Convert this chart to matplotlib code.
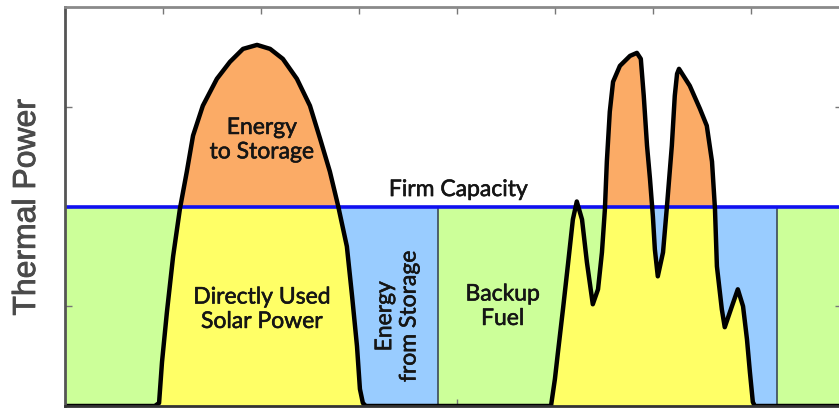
import numpy as np
import matplotlib
matplotlib.use("Agg")
import matplotlib.pyplot as plt
import matplotlib.patheffects as pe

# ---- data ----
# thermal power from the solar field (hours, arbitrary power units)
hours = [0, 2.75, 2.88, 2.97, 3.12, 3.31, 3.52, 3.73, 3.92, 4.22, 4.65, 5.05, 5.45,
         5.88, 6.28, 6.67, 7.10, 7.50, 7.81, 8.11, 8.36, 8.63, 8.79, 8.94, 9.03,
         9.12, 9.21,
         14.88, 15.00, 15.09, 15.25, 15.40, 15.55, 15.67, 15.83, 15.98, 16.16, 16.32,
         16.44, 16.53, 16.59, 16.68, 16.78, 16.99, 17.30, 17.51, 17.63, 17.72, 17.82,
         17.91, 18.00, 18.06, 18.15, 18.31, 18.43, 18.58, 18.67, 18.74, 18.80, 19.13,
         19.44, 19.65, 19.81, 19.90, 19.96, 20.11, 20.20, 20.42, 20.60, 20.76, 20.88,
         20.97, 21.06, 21.12, 23.79]
solar_power = [0, 0, 0.03, 0.44, 0.94, 1.50, 1.98, 2.35, 2.71, 3.01, 3.28, 3.45, 3.58,
               3.62, 3.58, 3.48, 3.28, 3.01, 2.68, 2.35, 2.01, 1.60, 1.10, 0.60, 0.17,
               0.03, 0,
               0, 0.27, 0.53, 0.98, 1.42, 1.87, 2.05, 1.87, 1.44, 1.02, 1.17,
               1.54, 1.97, 2.45, 2.95, 3.25, 3.41, 3.51, 3.54, 3.48, 3.11, 2.61,
               2.28, 1.90, 1.57, 1.30, 1.54, 2.00, 2.61, 3.11, 3.33, 3.38, 3.21,
               2.98, 2.81, 2.45, 1.98, 1.40, 0.97, 0.79, 1.00, 1.17, 1.00, 0.67,
               0.34, 0.04, 0, 0]
firm_capacity = 2.0
# storage discharge windows (start, end) in hours
discharge_start = [8.36, 17.90]
discharge_end = [11.42, 21.80]

labels = {
    "to_storage": "Energy\nto Storage",
    "direct": "Directly Used\nSolar Power",
    "firm": "Firm Capacity",
    "from_storage": "Energy\nfrom Storage",
    "backup": "Backup\nFuel",
}
ylabel = "Thermal Power"

# ---- colours ----
c_green = "#CCFF99"
c_yellow = "#FFFF66"
c_orange = "#FBAB66"
c_blue = "#99CCFF"

x = np.array(hours)
p = np.array(solar_power)
xmax = hours[-1]

fig = plt.figure(figsize=(8.39, 4.10), dpi=100)
ax = fig.add_axes([65 / 839, 3 / 410, 777 / 839, 399 / 410])

# backup fuel everywhere below firm capacity
ax.fill_between([0, xmax], 0, firm_capacity, color=c_green, lw=0, zorder=1)
# energy from storage
for s, e in zip(discharge_start, discharge_end):
    ax.fill_between([s, e], 0, firm_capacity, color=c_blue, lw=0, zorder=2)
    ax.plot([e, e], [0, firm_capacity], color="#3C4A58", lw=1.2, zorder=3)
# directly used solar
ax.fill_between(x, 0, p, color=c_yellow, lw=0, zorder=4)
# energy to storage
ax.fill_between(x, firm_capacity, p, where=p > firm_capacity, interpolate=True,
                color=c_orange, lw=0, zorder=5)
# firm capacity line
ax.axhline(firm_capacity, color="#1010F0", lw=2.6, zorder=6)
# solar curve
ax.plot(x, p, color="black", lw=3.2, zorder=7, solid_joinstyle="round")

ax.set_xlim(0, xmax)
ax.set_ylim(0, 4)
ax.set_xticks(np.arange(0, 22, 3))
ax.set_yticks([1, 2, 3])
ax.set_xticklabels([])
ax.set_yticklabels([])
ax.tick_params(direction="in", length=5, width=1, color="#777777",
               top=True, bottom=True, left=True, right=True)
for side, sp in ax.spines.items():
    sp.set_linewidth(2)
    sp.set_zorder(8)
ax.spines["top"].set_color("#8A8A8A")
ax.spines["left"].set_color("#555555")
ax.spines["bottom"].set_color("#333333")
ax.spines["right"].set_color("#555555")

fig.text(27 / 839, 1 - 208 / 410, ylabel, rotation=90, ha="center", va="center",
         fontsize=23, color="#4A4A4A", family=["Liberation Sans", "DejaVu Sans"],
         path_effects=[pe.withStroke(linewidth=0.6, foreground="#4A4A4A")])

stroke = [pe.withStroke(linewidth=0.4, foreground="#151515")]
tfont = dict(family=["Lato", "DejaVu Sans"], fontsize=16.5, color="#151515",
             ha="center", va="center", linespacing=1.2, zorder=9,
             path_effects=stroke)
ax.text(6.03, 2.67, labels["to_storage"], **tfont)
ax.text(6.03, 0.97, labels["direct"], **tfont)
ax.text(12.04, 2.17, labels["firm"], **tfont)
ax.text(10.16, 0.90, labels["from_storage"], rotation=90, **tfont)
ax.text(13.40, 1.00, labels["backup"], **tfont)

fig.savefig("out.png", dpi=100)
